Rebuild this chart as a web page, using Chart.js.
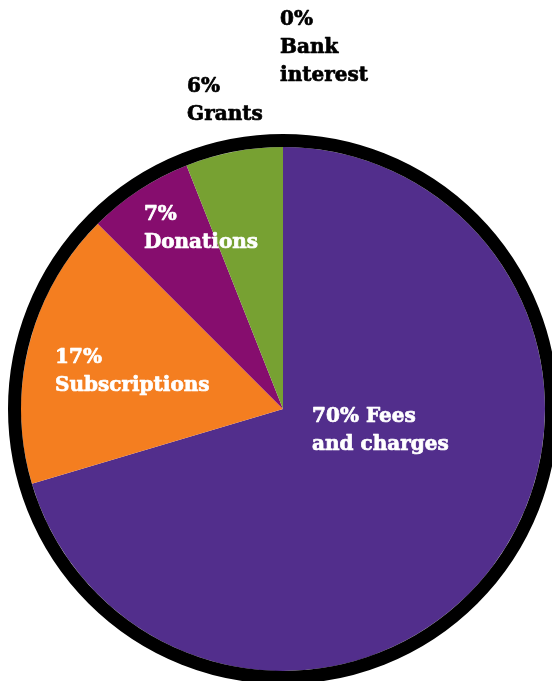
<!DOCTYPE html>
<html>
<head>
<meta charset="utf-8">
<script src="https://cdn.jsdelivr.net/npm/chart.js@4"></script>
<style>
  html,body{margin:0;padding:0;background:#fff;overflow:hidden;}
  canvas{display:block;}
</style>
</head>
<body>
<canvas id="incomePie" width="552" height="681"></canvas>
<script>
// Data
const categories=['Fees and charges','Subscriptions','Donations','Grants','Bank interest'];
const shares=[70.4,17.1,6.5,6.0,0];
const sliceColors=['#522e8c','#f47e20','#860d6e','#77a132','#b0b0b0'];

// Label layout: offsets from pie centre in units of radius, text lines after the %
const labelSpots=[
  {dx:0.111, dy:0.050, lines:['Fees','and charges'], inline:true, color:'#fff'},
  {dx:-0.870,dy:-0.176,lines:['Subscriptions'], inline:false, color:'#fff'},
  {dx:-0.531,dy:-0.721,lines:['Donations'], inline:false, color:'#fff'},
  {dx:-0.366,dy:-1.210,lines:['Grants'], inline:false, color:'#000'},
  {dx:-0.011,dy:-1.466,lines:['Bank','interest'], inline:false, color:'#000'}
];
const FONT='bold 20px "DejaVu Serif"';
const LINE_H=28;
const RING_W=13;

// black outer rim + labels
const rimAndLabels={
  id:'rimAndLabels',
  afterDatasetsDraw(chart){
    const ctx=chart.ctx;
    const arc=chart.getDatasetMeta(0).data[0];
    const cx=arc.x, cy=arc.y, r=arc.outerRadius;
    ctx.save();
    ctx.beginPath();
    ctx.arc(cx,cy,r+RING_W/2,0,Math.PI*2);
    ctx.lineWidth=RING_W;
    ctx.strokeStyle='#000';
    ctx.stroke();

    ctx.font=FONT;
    ctx.textAlign='left';
    ctx.textBaseline='alphabetic';
    ctx.lineWidth=0.7;
    ctx.lineJoin='round';
    labelSpots.forEach((s,i)=>{
      const pct=Math.round(shares[i])+'%';
      let lines=s.inline?[pct+' '+s.lines[0]].concat(s.lines.slice(1)):[pct].concat(s.lines);
      ctx.fillStyle=s.color;
      ctx.strokeStyle=s.color;
      lines.forEach((t,k)=>{
        const x=cx+s.dx*r, y=cy+s.dy*r+k*LINE_H;
        ctx.fillText(t,x,y);
        ctx.strokeText(t,x,y);
      });
    });
    ctx.restore();
  }
};

const pieChart=new Chart(document.getElementById('incomePie').getContext('2d'),{
  type:'pie',
  data:{labels:categories,datasets:[{data:shares,backgroundColor:sliceColors,borderWidth:0,hoverOffset:0}]},
  options:{
    responsive:false,
    animation:false,
    devicePixelRatio:1,
    layout:{padding:{left:21,right:7,top:147,bottom:10}},
    plugins:{legend:{display:false},tooltip:{enabled:false}}
  },
  plugins:[rimAndLabels]
});
</script>
</body>
</html>
